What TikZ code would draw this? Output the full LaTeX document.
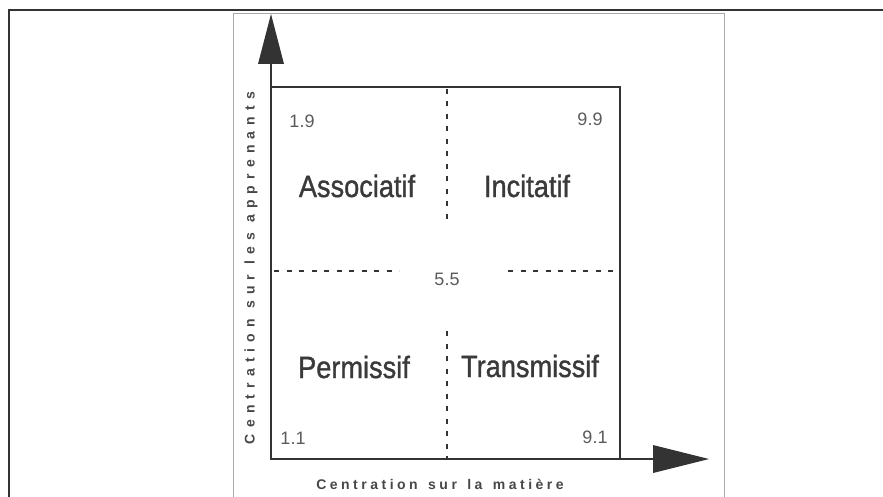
\documentclass[tikz,border=0pt]{standalone}
\usepackage{fontspec}
\setmainfont{Liberation Sans}
\newfontfamily\quadfont[FakeBold=1.2]{Liberation Sans}
\newfontfamily\axisxfont[LetterSpace=25]{Liberation Sans Bold}
\newfontfamily\axisyfont[LetterSpace=44]{Liberation Sans Bold}
\definecolor{ink}{HTML}{333333}
\definecolor{txt}{HTML}{3A3A3A}
\definecolor{numc}{HTML}{5A5A5A}
\definecolor{frame}{HTML}{AAAAAA}
\newcommand{\tallq}[1]{\scalebox{0.97}[1.1]{#1}}
\begin{document}
\begin{tikzpicture}[x=1pt,y=-1pt,
  axisline/.style={draw=ink,line width=2pt},
  divider/.style={draw=ink,line width=2.4pt,dash pattern=on 5pt off 7.5pt},
  quad/.style={text=txt,font=\quadfont\fontsize{28}{30}\selectfont,inner sep=0pt},
  corner/.style={text=numc,font=\fontsize{18}{20}\selectfont,inner sep=0pt},
  axlabel/.style={text=ink!90,inner sep=0pt}]
\useasboundingbox (0,0) rectangle (883,497);
% outer frame
\draw[ink,line width=2pt] (9,497) -- (9,10) -- (883,10);
% inner picture frame
\draw[frame,line width=0.8pt] (233,497) -- (233,13) -- (724,13) -- (724,497);
% coordinates
\coordinate (O) at (271,459);
\coordinate (Ytop) at (271,64);
\coordinate (Xend) at (653,459);
\coordinate (TL) at (271,87);
\coordinate (TR) at (620,87);
\coordinate (BR) at (620,459);
% axes
\draw[axisline] (Ytop) -- (O) -- (Xend);
\fill[ink] (271,14) -- (284,64) -- (258,64) -- cycle;
\fill[ink] (709,459) -- (653,445) -- (653,473) -- cycle;
% box
\draw[axisline,line cap=rect] (TL) -- (TR) -- (BR);
% dividers
\coordinate (V1a) at (447,89);
\coordinate (V1b) at (447,225);
\coordinate (V2a) at (447,331);
\coordinate (V2b) at (447,459);
\coordinate (H1a) at (274,271);
\coordinate (H1b) at (399,271);
\coordinate (H2a) at (508,271);
\coordinate (H2b) at (620,271);
\draw[divider] (V1a) -- (V1b);
\draw[divider] (V2a) -- (V2b);
\draw[divider] (H1a) -- (H1b);
\draw[divider] (H2a) -- (H2b);
% labels
\node[quad] (assoc) at (357,186) {\tallq{Associatif}};
\node[quad] (incit) at (527,186) {\tallq{Incitatif}};
\node[quad] (perm) at (354,367) {\tallq{Permissif}};
\node[quad] (trans) at (530,366) {\tallq{Transmissif}};
\node[corner] (c19) at (302,121) {1.9};
\node[corner] (c99) at (590,119) {9.9};
\node[corner] (c11) at (293,438) {1.1};
\node[corner] (c91) at (595,437) {9.1};
\node[corner] (c55) at (447,279) {5.5};
\node[axlabel,font=\axisxfont\fontsize{14}{16}\selectfont] (xlab) at (440,484) {Centration\hspace{3pt} sur\hspace{3pt} la\hspace{3pt} matière};
\node[axlabel,font=\axisyfont\fontsize{14}{16}\selectfont,rotate=90] (ylab) at (251,268) {Centration sur les apprenants};
\end{tikzpicture}
\end{document}
